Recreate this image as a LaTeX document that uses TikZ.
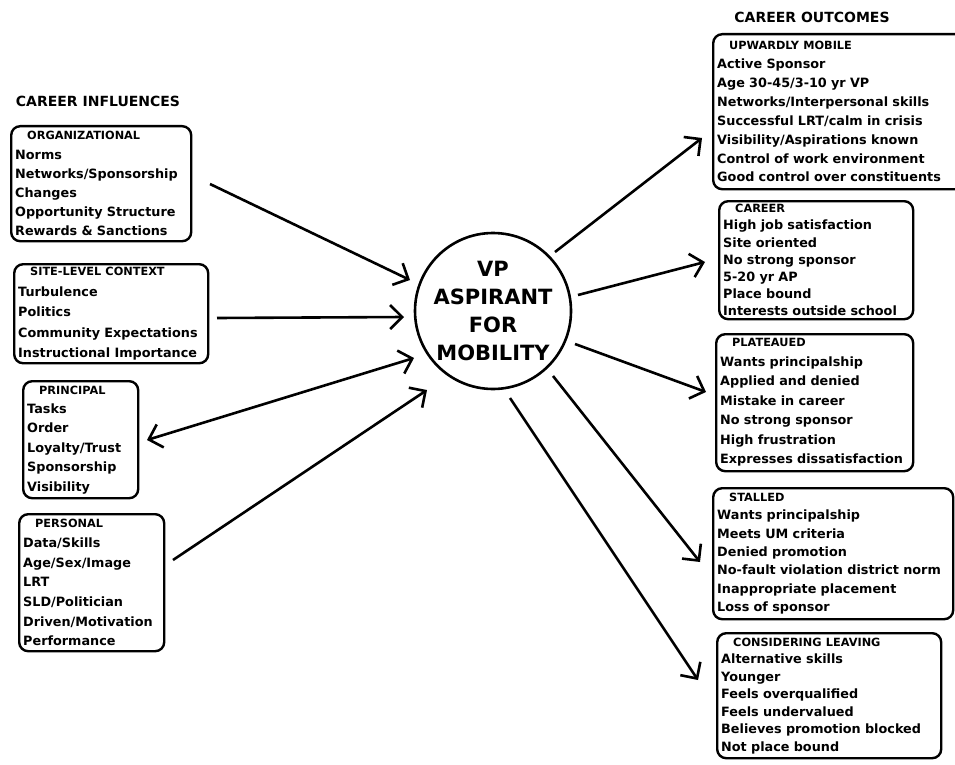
\documentclass[tikz,border=0pt]{standalone}
\usepackage{fontspec}
\setmainfont{DejaVu Sans}
\usetikzlibrary{arrows.meta}
\begin{document}
\begin{tikzpicture}[x=1pt,y=-1pt,
  box/.style={draw, line width=2.4pt, rounded corners=9pt, anchor=north west,
    inner xsep=4pt, inner ysep=3pt, align=left,
    font=\fontsize{12.8}{#1}\selectfont\bfseries},
  box/.default=19,
  hdr/.style={font=\fontsize{14}{16}\selectfont\bfseries},
  barb/.tip={Straight Barb[length=12pt,width=24pt,line width=2.6pt]},
  conn/.style={line width=2.6pt, -barb},
  conn2/.style={line width=2.6pt, barb-barb}
]
\useasboundingbox (0,0) rectangle (955,765);
\newcommand{\bt}[1]{\hspace*{12pt}{\fontsize{11.3}{12}\selectfont #1}}

% headers
\node[hdr] (hin) at (98,101) {CAREER INFLUENCES};
\node[hdr] (hout) at (812,17) {CAREER OUTCOMES};

% left boxes
\node[box=19.2, text width=172pt, minimum height=115pt] (org) at (10,125)
 {\bt{ORGANIZATIONAL}\\Norms\\Networks/Sponsorship\\Changes\\Opportunity Structure\\Rewards \& Sanctions};
\node[box=20.5, text width=186pt, minimum height=99pt] (site) at (13,263)
 {\bt{SITE-LEVEL CONTEXT}\\Turbulence\\Politics\\Community Expectations\\Instructional Importance};
\node[box=19.4, text width=107pt, minimum height=117pt] (prin) at (22,380)
 {\bt{PRINCIPAL}\\Tasks\\Order\\Loyalty/Trust\\Sponsorship\\Visibility};
\node[box=19.7, text width=137pt, minimum height=137pt] (pers) at (18,513)
 {\bt{PERSONAL}\\Data/Skills\\Age/Sex/Image\\LRT\\SLD/Politician\\Driven/Motivation\\Performance};

% centre
\node[draw, circle, line width=2.6pt, minimum size=156pt, inner sep=0pt, align=center,
  font=\fontsize{21}{28}\selectfont\bfseries] (vp) at (493,311)
  {VP\\ASPIRANT\\FOR\\MOBILITY};

% right boxes
\node[box=18.9, text width=260pt, minimum height=155pt] (up) at (712,33)
 {\bt{UPWARDLY MOBILE}\\Active Sponsor\\Age 30-45/3-10 yr VP\\Networks/Interpersonal skills\\Successful LRT/calm in crisis\\Visibility/Aspirations known\\Control of work environment\\Good control over constituents};
\node[box=17.2, text width=186pt, minimum height=118pt] (car) at (718,200)
 {\bt{CAREER}\\High job satisfaction\\Site oriented\\No strong sponsor\\5-20 yr AP\\Place bound\\Interests outside school};
\node[box=19.5, text width=189pt, minimum height=137pt] (plat) at (715,333)
 {\bt{PLATEAUED}\\Wants principalship\\Applied and denied\\Mistake in career\\No strong sponsor\\High frustration\\Expresses dissatisfaction};
\node[box=18.3, text width=232pt, minimum height=131pt] (stal) at (712,487)
 {\bt{STALLED}\\Wants principalship\\Meets UM criteria\\Denied promotion\\No-fault violation district norm\\Inappropriate placement\\Loss of sponsor};
\node[box=17.5, text width=216pt, minimum height=125pt] (leav) at (716,632)
 {\bt{CONSIDERING LEAVING}\\Alternative skills\\Younger\\Feels overqualified\\Feels undervalued\\Believes promotion blocked\\Not place bound};

% connector ends
\coordinate (l1s) at (210,184); \coordinate (l1e) at (410,280);
\coordinate (l2s) at (217,318); \coordinate (l2e) at (404,317);
\coordinate (l3s) at (147,440); \coordinate (l3e) at (414,358);
\coordinate (l4s) at (173,560); \coordinate (l4e) at (427,390);
\coordinate (r1s) at (555,252); \coordinate (r1e) at (702,138);
\coordinate (r2s) at (578,295); \coordinate (r2e) at (705,262);
\coordinate (r3s) at (575,344); \coordinate (r3e) at (706,392);
\coordinate (r4s) at (553,376); \coordinate (r4e) at (700,562);
\coordinate (r5s) at (510,398); \coordinate (r5e) at (698,680);

\draw[conn] (l1s) -- (l1e);
\draw[conn] (l2s) -- (l2e);
\draw[conn2] (l3s) -- (l3e);
\draw[conn] (l4s) -- (l4e);
\draw[conn] (r1s) -- (r1e);
\draw[conn] (r2s) -- (r2e);
\draw[conn] (r3s) -- (r3e);
\draw[conn] (r4s) -- (r4e);
\draw[conn] (r5s) -- (r5e);
\end{tikzpicture}
\end{document}
